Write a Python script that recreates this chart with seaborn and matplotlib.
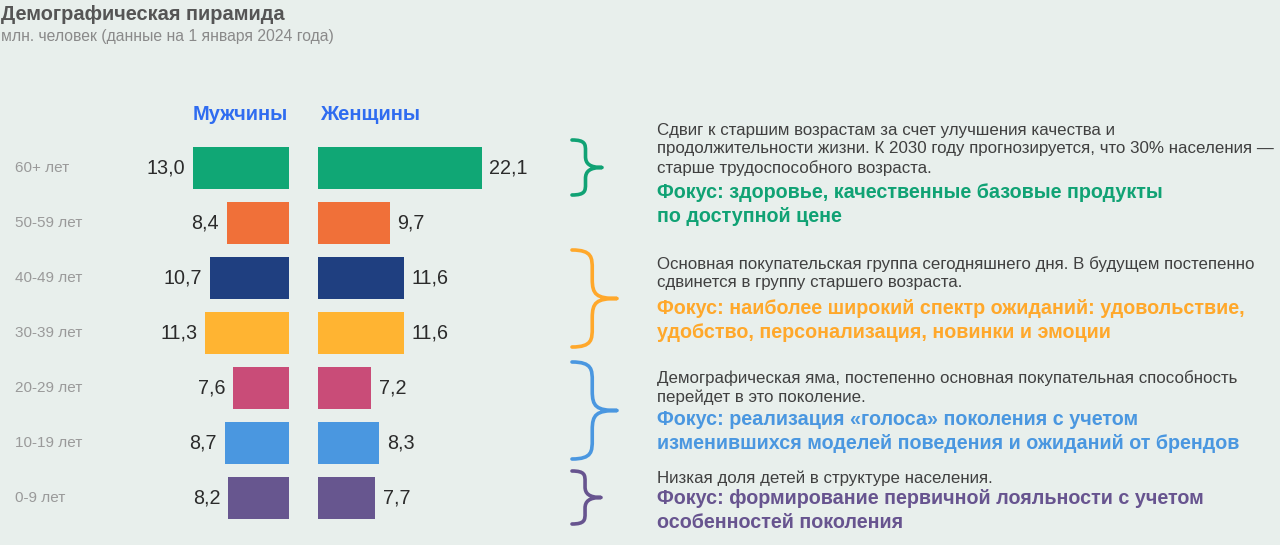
import seaborn as sns
import pandas as pd
import matplotlib.pyplot as plt
from matplotlib.path import Path
from matplotlib.patches import PathPatch

# data
ages = ["60+ лет", "50-59 лет", "40-49 лет", "30-39 лет", "20-29 лет", "10-19 лет", "0-9 лет"]
men = [13.0, 8.4, 10.7, 11.3, 7.6, 8.7, 8.2]
women = [22.1, 9.7, 11.6, 11.6, 7.2, 8.3, 7.7]
bar_colors = ["#10A775", "#F07039", "#1F3F80", "#FFB432", "#C94C78", "#4A97E0", "#67568F"]

notes = [
    "Сдвиг к старшим возрастам за счет улучшения качества и\n"
    "продолжительности жизни. К 2030 году прогнозируется, что 30% населения —\n"
    "старше трудоспособного возраста.",
    "Основная покупательская группа сегодняшнего дня. В будущем постепенно\n"
    "сдвинется в группу старшего возраста.",
    "Демографическая яма, постепенно основная покупательная способность\n"
    "перейдет в это поколение.",
    "Низкая доля детей в структуре населения.",
]
focus = [
    "Фокус: здоровье, качественные базовые продукты\nпо доступной цене",
    "Фокус: наиболее широкий спектр ожиданий: удовольствие,\nудобство, персонализация, новинки и эмоции",
    "Фокус: реализация «голоса» поколения с учетом\nизменившихся моделей поведения и ожиданий от брендов",
    "Фокус: формирование первичной лояльности с учетом\nособенностей поколения",
]
focus_colors = ["#10A274", "#FFA82B", "#4A97E0", "#67548F"]

df = pd.DataFrame({"age": ages, "men": men, "women": women})

BG = "#E8EFEC"
W, H = 1280, 545

sns.set_theme(style="white")
plt.rcParams["font.family"] = ["Liberation Sans", "DejaVu Sans"]

fig = plt.figure(figsize=(12.8, 5.45), dpi=100, facecolor=BG)

# overlay in pixel coordinates for text and braces
over = fig.add_axes([0, 0, 1, 1])
over.set_xlim(0, W)
over.set_ylim(H, 0)
over.axis("off")
over.patch.set_alpha(0)


def px_axes(left, right, top, bottom):
    return fig.add_axes([left / W, 1 - bottom / H, (right - left) / W, (bottom - top) / H])


top_px, bot_px = 140.5, 525.5
scale = 7.4  # px per million
ax_m = px_axes(100, 289, top_px, bot_px)
ax_w = px_axes(318, 560, top_px, bot_px)

pal = dict(zip(ages, bar_colors))
for ax, col in [(ax_m, "men"), (ax_w, "women")]:
    sns.barplot(data=df, x=col, y="age", hue="age", palette=pal, orient="h",
                width=0.77, saturation=1, legend=False, linewidth=0, ax=ax)
    ax.set_ylim(6.5, -0.5)
    ax.axis("off")
    ax.patch.set_alpha(0)

ax_m.set_xlim(189 / scale, 0)
ax_w.set_xlim(0, 242 / scale)

for ax, sign, ha in [(ax_m, -1, "right"), (ax_w, 1, "left")]:
    for p in ax.patches:
        v = p.get_width()
        y = p.get_y() + p.get_height() / 2
        ax.annotate(f"{v:.1f}".replace(".", ","), (v, y), xytext=(sign * 5.5, 0),
                    textcoords="offset points", ha=ha, va="center",
                    fontsize=14.2, color="#2B2B2B")

# age labels
ytr = ax_m.get_yaxis_transform()
for i, a in enumerate(ages):
    ax_m.text((15 - 100) / 189, i, a, transform=ytr, ha="left", va="center",
              fontsize=11, color="#9A9A9A")

# headers
over.text(240, 114, "Мужчины", ha="center", va="center", fontsize=14.5,
          fontweight="bold", color="#2F6CF0")
over.text(370, 114, "Женщины", ha="center", va="center", fontsize=14.5,
          fontweight="bold", color="#2F6CF0")

# title
over.text(1, 15, "Демографическая пирамида", ha="left", va="center", fontsize=14.4,
          fontweight="bold", color="#555555")
over.text(1, 37, "млн. человек (данные на 1 января 2024 года)", ha="left", va="center",
          fontsize=11.3, color="#8A8A8A")


# braces
def brace(x0, top, bottom, tip_x, color):
    mid = (top + bottom) / 2
    xm = x0 + (tip_x - x0) * 0.45
    q = (bottom - top) * 0.2
    verts = [
        (x0, top), (xm, top), (xm, top + q * 0.4), (xm, top + q),
        (xm, mid - q),
        (xm, mid - 4), (xm + 4, mid), (tip_x, mid),
        (xm + 4, mid), (xm, mid + 4), (xm, mid + q),
        (xm, bottom - q),
        (xm, bottom - q * 0.4), (xm, bottom), (x0, bottom),
    ]
    codes = [Path.MOVETO, Path.CURVE4, Path.CURVE4, Path.CURVE4,
             Path.LINETO,
             Path.CURVE4, Path.CURVE4, Path.CURVE4,
             Path.CURVE4, Path.CURVE4, Path.CURVE4,
             Path.LINETO,
             Path.CURVE4, Path.CURVE4, Path.CURVE4]
    over.add_patch(PathPatch(Path(verts, codes), fill=False, edgecolor=color,
                             lw=2.6, capstyle="round", joinstyle="round"))


brace(572, 140, 195, 602, focus_colors[0])
brace(572, 250, 347, 617, focus_colors[1])
brace(572, 362, 459, 617, focus_colors[2])
brace(572, 471, 524, 601, focus_colors[3])

# notes
note_y = [123, 256, 370, 470]
focus_y = [183, 299, 410, 489]
for n, f, c, ny, fy in zip(notes, focus, focus_colors, note_y, focus_y):
    over.text(657, ny, n, ha="left", va="top", fontsize=12.2, color="#404040",
              linespacing=1.27)
    over.text(657, fy, f, ha="left", va="top", fontsize=14.2, fontweight="bold",
              color=c, linespacing=1.32)

fig.savefig("out.png", dpi=100, facecolor=BG)
